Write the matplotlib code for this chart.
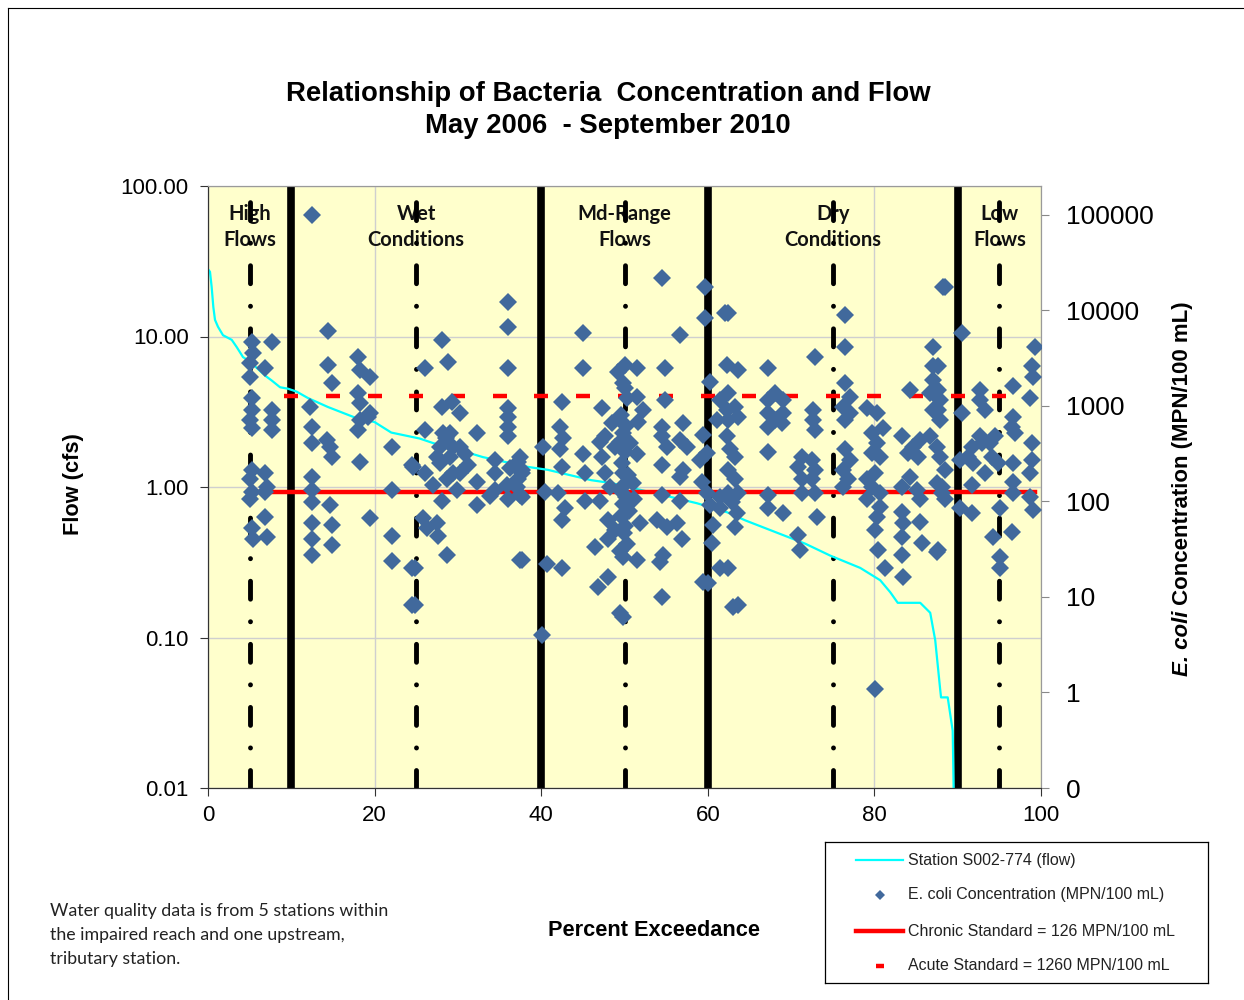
import numpy as np
import matplotlib
matplotlib.use("Agg")
import matplotlib.pyplot as plt
import matplotlib.transforms as mtransforms
from matplotlib.lines import Line2D
from matplotlib.ticker import NullLocator

# flow duration curve, station S002-774
flow_pct = [0.0, 0.24, 0.44, 0.64, 0.84, 1.2, 1.8, 2.85, 3.45, 4.2, 5.05, 6.85, 7.65,
            8.65, 9.6, 10.65, 12.0, 14.4, 17.6, 20.0, 22.0, 25.4, 27.0, 31.4, 33.0,
            38.4, 40.8, 46.0, 48.5, 55.5, 58.7, 62.3, 64.5, 71.7, 74.7, 78.3, 80.7,
            81.9, 82.8, 85.5, 86.7, 87.3, 87.9, 88.0, 88.8, 89.4, 89.6]
flow_cfs = [28.0, 26.9, 21.3, 15.7, 12.9, 11.6, 10.2, 9.5, 8.5, 7.3, 6.8, 5.5, 5.1,
            4.6, 4.5, 4.3, 3.9, 3.4, 2.9, 2.7, 2.3, 2.1, 1.96, 1.68, 1.58,
            1.36, 1.30, 1.11, 1.06, 0.86, 0.78, 0.68, 0.60, 0.42, 0.35, 0.29, 0.24,
            0.20, 0.17, 0.17, 0.146, 0.096, 0.045, 0.040, 0.040, 0.024, 0.005]

# E. coli samples (percent exceedance, MPN/100 mL)
ecoli_high = [(5.25, 4700), (7.65, 4700), (5.4, 3600), (5.0, 2800), (6.8, 2500), (5.0, 2000),
              (5.25, 1210), (5.25, 910), (7.65, 910), (5.0, 710), (7.65, 710), (5.25, 590),
              (7.65, 560), (5.25, 215), (6.8, 200), (5.0, 170), (7.05, 140), (5.25, 125),
              (6.8, 125), (5.0, 105), (6.8, 69), (5.25, 53), (7.05, 42), (5.4, 40)]
ecoli_wet = [(12.45, 100000), (14.45, 6000), (14.45, 2700), (14.85, 1750), (18.0, 3250),
             (18.25, 2400), (19.45, 2000), (18.0, 1370), (18.25, 1070), (19.45, 850),
             (19.2, 770), (18.25, 710), (18.0, 560), (12.2, 980), (12.45, 600), (12.45, 410),
             (14.25, 440), (14.65, 370), (14.85, 290), (18.25, 260), (22.05, 370), (24.45, 240),
             (12.45, 180), (12.45, 130), (12.45, 98), (14.65, 92), (12.45, 60), (14.85, 57),
             (12.45, 40), (14.85, 35), (12.45, 27.5), (19.45, 67), (22.05, 130), (22.05, 43),
             (22.05, 23.5), (24.45, 20), (24.45, 8.3),
             (36.05, 12300), (36.05, 6700), (28.05, 4900), (26.05, 2500), (28.85, 2900),
             (36.05, 2500), (28.05, 980), (29.25, 1100), (30.25, 850), (26.05, 560),
             (28.2, 520), (29.05, 520), (32.25, 520), (27.85, 370), (29.4, 370), (30.25, 370),
             (27.45, 290), (29.05, 290), (36.05, 960), (36.05, 770), (36.05, 600), (36.05, 480),
             (24.6, 230), (26.05, 200), (27.85, 250), (29.4, 200), (30.25, 200), (28.65, 170),
             (32.25, 160), (34.45, 270), (34.45, 200), (34.45, 130), (36.25, 225), (37.2, 260),
             (37.7, 200), (35.85, 150), (37.05, 140), (36.05, 105), (37.45, 117), (32.25, 92),
             (28.05, 100), (25.8, 67), (27.45, 60), (26.25, 53), (27.6, 43), (28.65, 27.5),
             (24.85, 20), (24.85, 8.3), (37.45, 24.5), (37.45, 290), (37.65, 215), (37.2, 170),
             (37.65, 112), (37.65, 24.5), (28.6, 460), (30.9, 310), (27.0, 150), (29.9, 130),
             (33.8, 115), (31.2, 240)]
ecoli_mid = [(45.05, 5800), (45.05, 2500), (42.45, 1100), (47.25, 960), (42.25, 600),
             (42.65, 460), (40.25, 370), (45.05, 310), (42.25, 350), (42.45, 230), (45.25, 200),
             (47.65, 480), (48.45, 660), (47.25, 290), (48.85, 370), (47.65, 200), (40.45, 125),
             (42.05, 122), (45.25, 100), (47.05, 100), (42.85, 86), (42.45, 64), (48.0, 64),
             (48.85, 50), (48.0, 40), (46.45, 33), (40.65, 22), (42.45, 20), (48.0, 16),
             (46.8, 12.7), (49.45, 6.8), (40.05, 4.0), (49.2, 2250), (50.05, 2700),
             (49.8, 1750), (50.3, 1200), (49.6, 800), (50.2, 620), (49.5, 420), (50.1, 330),
             (49.7, 250), (50.4, 190), (49.9, 150), (49.4, 130), (50.2, 110), (49.8, 95),
             (50.5, 80), (49.6, 70), (50.1, 55), (49.9, 47), (50.3, 36), (49.5, 30),
             (54.45, 21900), (59.65, 17700), (59.65, 8300), (56.65, 5500), (51.45, 2500),
             (54.85, 2500), (50.05, 1550), (51.45, 1240), (54.85, 1160), (51.6, 680),
             (54.45, 600), (57.0, 660), (49.8, 520), (50.65, 410), (54.45, 480), (55.05, 370),
             (56.65, 440), (57.45, 370), (59.4, 500), (59.85, 320), (59.05, 270), (51.45, 310),
             (54.45, 240), (57.0, 215), (56.65, 180), (49.8, 200), (51.0, 157), (59.25, 160),
             (59.85, 122), (54.45, 117), (56.65, 100), (50.25, 78), (51.85, 60), (53.85, 64),
             (55.05, 54), (56.25, 60), (56.85, 40), (49.8, 26), (51.45, 24.5), (54.6, 27.5),
             (54.25, 23), (59.4, 14.4), (54.45, 10), (49.8, 6.2), (48.2, 140), (51.2, 105),
             (47.0, 420), (52.2, 900)]
ecoli_dry = [(62.05, 9400), (62.25, 2700), (60.25, 1790), (61.45, 1160), (62.25, 910),
             (61.05, 710), (62.25, 480), (62.65, 350), (61.45, 112), (61.45, 86), (60.25, 92),
             (60.0, 14.1), (60.6, 57), (60.45, 37), (61.45, 20), (63.0, 7.9),
             (62.4, 9400), (63.6, 2400), (67.25, 2500), (72.85, 3250), (62.4, 1370),
             (63.25, 980), (62.4, 710), (63.6, 770), (67.25, 1160), (68.05, 1370), (69.0, 1160),
             (67.25, 850), (69.0, 850), (67.25, 600), (68.05, 710), (68.9, 660), (72.6, 910),
             (72.6, 710), (72.85, 560), (67.25, 330), (63.25, 290), (62.4, 215), (63.25, 170),
             (62.4, 122), (63.6, 122), (62.9, 98), (71.3, 290), (72.5, 270), (70.8, 230),
             (72.85, 215), (71.3, 170), (72.5, 170), (71.3, 122), (72.85, 122), (67.25, 117),
             (67.25, 86), (69.0, 76), (63.5, 76), (63.25, 54), (73.1, 69), (70.8, 45),
             (71.1, 31), (62.4, 20), (63.6, 8.3),
             (88.25, 17700), (76.45, 8900), (76.45, 4100), (87.05, 4100), (87.05, 2600),
             (84.3, 1480), (76.45, 1750), (77.05, 1240), (76.2, 980), (77.05, 850), (76.45, 710),
             (87.05, 1870), (86.65, 1370), (87.85, 1160), (87.05, 910), (87.85, 710), (79.1, 960),
             (80.3, 850), (81.05, 590), (79.7, 520), (80.3, 410), (79.7, 320), (80.7, 290),
             (83.3, 480), (84.65, 370), (85.45, 440), (84.05, 320), (85.25, 290), (86.65, 480),
             (87.5, 370), (87.85, 290), (76.45, 350), (77.05, 270), (76.2, 215), (76.8, 170),
             (76.2, 140), (79.1, 170), (80.05, 200), (79.7, 140), (80.7, 122), (79.1, 105),
             (80.7, 88), (84.3, 180), (83.3, 140), (85.1, 130), (85.45, 105), (87.5, 157),
             (88.1, 122), (80.3, 69), (80.05, 50), (83.3, 78), (83.45, 60), (83.3, 42),
             (83.3, 27.5), (85.45, 61), (85.7, 37), (87.5, 29.5), (80.45, 31), (81.3, 20),
             (83.45, 16.2), (80.05, 1.1), (88.5, 17700), (87.65, 2600), (87.65, 1480),
             (87.65, 910), (88.5, 215), (88.1, 140), (88.5, 105), (87.65, 31)]
ecoli_low = [(90.5, 5800), (99.3, 4100), (98.9, 2600), (99.05, 2000), (92.7, 1480),
             (92.7, 1160), (93.3, 910), (96.65, 1600), (98.7, 1210), (90.5, 850), (96.65, 770),
             (96.5, 600), (96.9, 520), (92.7, 480), (91.7, 370), (91.25, 290), (92.9, 410),
             (93.9, 410), (94.5, 480), (94.1, 290), (94.85, 250), (90.3, 270), (91.85, 250),
             (98.9, 410), (98.9, 270), (93.3, 200), (96.65, 250), (96.65, 160), (98.7, 200),
             (91.7, 150), (96.65, 122), (98.7, 112), (99.05, 82), (90.3, 86), (91.7, 76),
             (95.1, 86), (96.5, 48), (94.25, 42), (95.1, 26), (95.1, 20)]

zone_labels = ["High\nFlows", "Wet\nConditions", "Md-Range\nFlows", "Dry\nConditions", "Low\nFlows"]
zone_centers = [5, 25, 50, 75, 95]
zone_bounds = [10, 40, 60, 90]
chronic_std = 126
chronic_span = [6, 99.3]
acute_std = 1260
acute_pct = list(range(10, 100, 5))

left_ticks = [0.01, 0.1, 1, 10, 100]
left_labels = ["0.01", "0.10", "1.00", "10.00", "100.00"]
right_ticks = [0.1, 1, 10, 100, 1000, 10000, 100000]
right_labels = ["0", "1", "10", "100", "1000", "10000", "100000"]

ARIAL = "Liberation Sans"
CALIBRI = "Lato"
BLUE = "#41699C"

W, H = 1244, 1000
fig = plt.figure(figsize=(W / 100, H / 100), dpi=100, facecolor="white")

ax = fig.add_axes([208 / W, 1 - 788 / H, 833 / W, 602 / H])
ax.set_facecolor("#FFFFCC")
ax.set_xlim(0, 100)
ax.set_yscale("log")
ax.set_ylim(0.01, 100)
ax.set_yticks(left_ticks)
ax.set_yticklabels(left_labels)
ax.yaxis.set_minor_locator(NullLocator())
ax.set_xticks(range(0, 101, 20))
ax.set_axisbelow(True)
ax.grid(True, color="#CFCFCF", lw=1.0)
ax.tick_params(axis="y", labelsize=16, length=6, direction="out", pad=8, colors="#333333")
ax.tick_params(axis="x", labelsize=16, length=6, direction="out", pad=6, colors="#333333")
for lbl in ax.get_xticklabels() + ax.get_yticklabels():
    lbl.set_family(ARIAL)
    lbl.set_color("black")

for b in zone_bounds:
    ax.axvline(b, color="black", lw=5.5, zorder=2)
for c in zone_centers:
    ax.axvline(c, color="black", lw=3.5, linestyle=(0, (3.7, 4.63, 0.02, 4.63)),
               dash_capstyle="round", zorder=2)

lbl_tr = mtransforms.blended_transform_factory(ax.transData, ax.transAxes)
for c, lab in zip(zone_centers, zone_labels):
    ax.text(c, 0.932, lab, transform=lbl_tr, ha="center", va="center", fontsize=14.5,
            fontweight="bold", family=CALIBRI, linespacing=1.38, zorder=1.5, color="#111111")

ax.plot(flow_pct, flow_cfs, color="#00FFFF", lw=1.6, zorder=2.5)

ax2 = ax.twinx()
ax2.set_yscale("log")
ax2.set_ylim(0.1, 200000)
ax2.set_yticks(right_ticks)
ax2.set_yticklabels(right_labels)
ax2.yaxis.set_minor_locator(NullLocator())
ax2.tick_params(axis="y", labelsize=19, length=6, direction="out", pad=12, colors="#888888")
for lbl in ax2.get_yticklabels():
    lbl.set_family(ARIAL)
    lbl.set_color("black")

ax2.plot(chronic_span, [chronic_std, chronic_std], color="red", lw=3.2, zorder=2)
ax2.plot(acute_pct, [acute_std] * len(acute_pct), ls="none", marker="_", ms=10, mew=3.2,
         color="red", zorder=2)

pts = np.array(ecoli_high + ecoli_wet + ecoli_mid + ecoli_dry + ecoli_low)
ax2.plot(pts[:, 0], pts[:, 1], ls="none", marker="D", ms=9.5, mew=0, color=BLUE, zorder=3)

for a in (ax, ax2):
    a.spines["left"].set_color("#333333")
    a.spines["bottom"].set_color("#333333")
    a.spines["top"].set_color("#9A9A9A")
    a.spines["right"].set_color("#9A9A9A")

# titles and axis labels
fig.text(608 / W, 1 - 110 / H, "Relationship of Bacteria  Concentration and Flow\nMay 2006  - September 2010",
         ha="center", va="center", fontsize=19.8, fontweight="bold", family=ARIAL, linespacing=1.32)
fig.text(73 / W, 1 - 484 / H, "Flow (cfs)", rotation=90, ha="center", va="center",
         fontsize=15.7, fontweight="bold", family=ARIAL)
fig.text(654 / W, 1 - 930 / H, "Percent Exceedance", ha="center", va="center",
         fontsize=15.7, fontweight="bold", family=ARIAL)

t1 = fig.text(1188 / W, 1 - 676 / H, "E. coli", rotation=90, rotation_mode="anchor",
              ha="left", va="baseline", fontsize=16, fontweight="bold", style="italic", family=ARIAL)
fig.canvas.draw()
bb = t1.get_window_extent()
y_top = fig.transFigure.inverted().transform((0, bb.y1))[1]
fig.text(1188 / W, y_top, " Concentration (MPN/100 mL)", rotation=90, rotation_mode="anchor",
         ha="left", va="baseline", fontsize=16, fontweight="bold", family=ARIAL)

fig.text(50 / W, 1 - 935 / H,
         "Water quality data is from 5 stations within\nthe impaired reach and one upstream,\ntributary station.",
         ha="left", va="center", fontsize=12.8, family=CALIBRI, linespacing=1.6, color="#222222")

# legend box
lax = fig.add_axes([825 / W, 1 - 983 / H, 383 / W, 141 / H])
lax.set_xlim(0, 383)
lax.set_ylim(141, 0)
lax.set_xticks([])
lax.set_yticks([])
for s in lax.spines.values():
    s.set_color("black")
    s.set_linewidth(0.9)
lax.plot([31, 78], [18, 18], color="#00FFFF", lw=1.6)
lax.plot([55], [53], marker="D", ms=5, mew=0, color=BLUE)
lax.plot([31, 78], [89, 89], color="red", lw=3.2)
lax.plot([55], [124], marker="_", ms=6, mew=3.2, color="red")
leg_text = ["Station S002-774 (flow)", "E. coli Concentration (MPN/100 mL)",
            "Chronic Standard = 126 MPN/100 mL", "Acute Standard = 1260 MPN/100 mL"]
for yy, t in zip([18, 53, 89, 124], leg_text):
    lax.text(83, yy, t, ha="left", va="center", fontsize=11.5, family=ARIAL, color="#222222")

# outer chart border
fig.add_artist(Line2D([8 / W, 8 / W], [0, 1 - 8 / H], transform=fig.transFigure, color="black", lw=0.8))
fig.add_artist(Line2D([8 / W, 1], [1 - 8 / H, 1 - 8 / H], transform=fig.transFigure, color="black", lw=0.8))

fig.savefig("out.png", dpi=100)
